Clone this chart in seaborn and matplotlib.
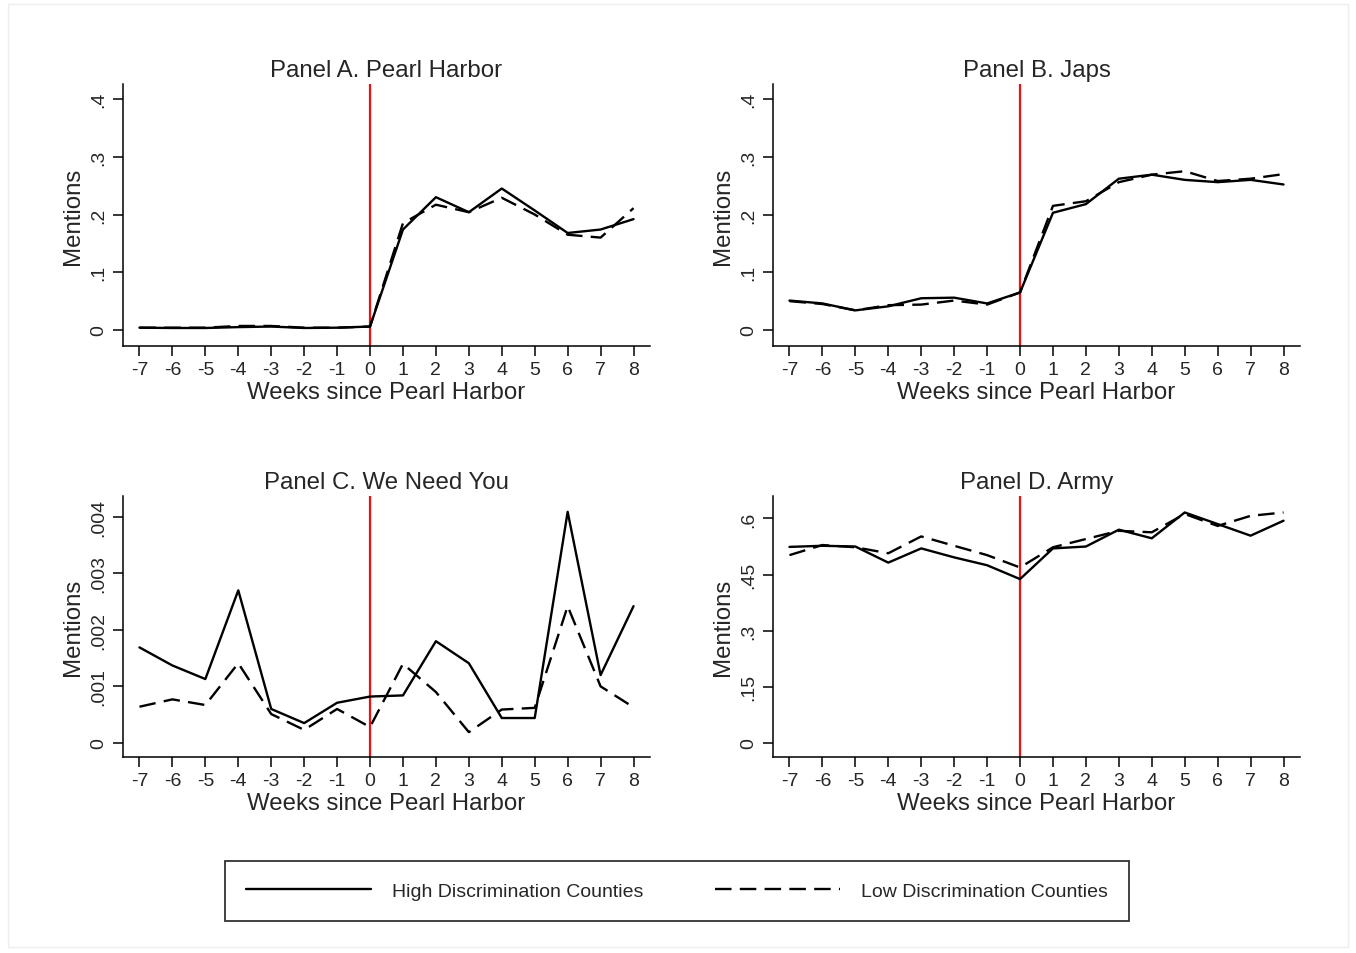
import matplotlib
matplotlib.use("Agg")
import matplotlib.pyplot as plt
import seaborn as sns
import pandas as pd
from matplotlib.lines import Line2D
from matplotlib.patches import Rectangle

weeks = list(range(-7, 9))

# Panel A. Pearl Harbor
a_high = [0.004, 0.0035, 0.0035, 0.005, 0.006, 0.0035, 0.004, 0.006,
          0.174, 0.230, 0.204, 0.245, 0.207, 0.168, 0.174, 0.192]
a_low = [0.004, 0.004, 0.004, 0.007, 0.007, 0.004, 0.004, 0.006,
         0.185, 0.217, 0.204, 0.229, 0.200, 0.165, 0.160, 0.211]
# Panel B. Japs
b_high = [0.051, 0.046, 0.034, 0.041, 0.055, 0.056, 0.046, 0.065,
          0.203, 0.218, 0.262, 0.269, 0.260, 0.256, 0.260, 0.252]
b_low = [0.050, 0.045, 0.034, 0.043, 0.044, 0.051, 0.044, 0.065,
         0.215, 0.223, 0.256, 0.269, 0.275, 0.258, 0.262, 0.270]
# Panel C. We Need You
c_high = [0.00169, 0.00137, 0.00113, 0.0027, 0.0006, 0.00035, 0.00071, 0.00082,
          0.00084, 0.0018, 0.00141, 0.00044, 0.00044, 0.00409, 0.0012, 0.00242]
c_low = [0.00064, 0.00077, 0.00067, 0.00141, 0.00051, 0.00023, 0.0006, 0.00028,
         0.0014, 0.0009, 0.00019, 0.00059, 0.00062, 0.00242, 0.001, 0.00063]
# Panel D. Army
d_high = [0.524, 0.527, 0.525, 0.482, 0.520, 0.496, 0.475, 0.438,
          0.520, 0.525, 0.570, 0.547, 0.616, 0.585, 0.554, 0.594]
d_low = [0.502, 0.529, 0.523, 0.507, 0.552, 0.527, 0.502, 0.469,
         0.523, 0.545, 0.567, 0.563, 0.612, 0.580, 0.607, 0.616]

titles = ["Panel A. Pearl Harbor", "Panel B. Japs", "Panel C. We Need You", "Panel D. Army"]
series = [(a_high, a_low), (b_high, b_low), (c_high, c_low), (d_high, d_low)]
yticks = [[0, 0.1, 0.2, 0.3, 0.4], [0, 0.1, 0.2, 0.3, 0.4],
          [0, 0.001, 0.002, 0.003, 0.004], [0, 0.15, 0.3, 0.45, 0.6]]
yticklabels = [["0", ".1", ".2", ".3", ".4"], ["0", ".1", ".2", ".3", ".4"],
               ["0", ".001", ".002", ".003", ".004"], ["0", ".15", ".3", ".45", ".6"]]
ylims = [(-0.0277, 0.426), (-0.0277, 0.426), (-0.00025, 0.00437), (-0.0374, 0.66)]

high_label = "High Discrimination Counties"
low_label = "Low Discrimination Counties"

sns.set_style("white")
plt.rcParams['font.family'] = ['Liberation Sans', 'DejaVu Sans']

W, H = 1356, 954
fig = plt.figure(figsize=(W / 100, H / 100), dpi=100)

# faint outer frame
fig.patches.append(Rectangle((8 / W, 1 - 948 / H), 1340 / W, 943 / H, transform=fig.transFigure,
                             fill=False, edgecolor="#eeeeee", lw=1))

lefts = [123, 773, 123, 773]
bottoms = [347, 347, 758, 758]
tops = [85, 85, 497, 497]
aw = 527

dash = (7, 3.5)
for i in range(4):
    l, b, t = lefts[i], bottoms[i], tops[i]
    ax = fig.add_axes([l / W, 1 - b / H, aw / W, (b - t) / H])
    hi, lo = series[i]
    df = pd.DataFrame({
        "week": weeks + weeks,
        "value": hi + lo,
        "group": [high_label] * len(weeks) + [low_label] * len(weeks),
    })
    sns.lineplot(data=df, x="week", y="value", style="group",
                 dashes={high_label: "", low_label: dash},
                 color="black", linewidth=1.7, ax=ax, legend=False)
    ax.axvline(0, color="#ee1111", lw=1.6, zorder=0)
    ax.set_xlim(-7.5, 8.5)
    ax.set_ylim(*ylims[i])
    ax.set_xticks(weeks)
    ax.set_xticklabels([str(w) for w in weeks])
    ax.set_yticks(yticks[i])
    ax.set_yticklabels(yticklabels[i])
    for lab in ax.get_yticklabels():
        lab.set_rotation(90)
        lab.set_va("center")
        lab.set_ha("right")
    ax.tick_params(axis="both", direction="out", length=7, width=1.1, color="black",
                   labelsize=14, pad=4, left=True, bottom=True)
    sns.despine(ax=ax)
    for s in ["left", "bottom"]:
        ax.spines[s].set_color("black")
        ax.spines[s].set_linewidth(1.1)
    ax.set_xlabel("Weeks since Pearl Harbor", fontsize=17.3, labelpad=2)
    ax.set_ylabel("Mentions", fontsize=17.3, labelpad=5)
    ax.set_title(titles[i], fontsize=17.3, pad=6)

handles = [Line2D([0], [0], color="black", lw=1.7),
           Line2D([0], [0], color="black", lw=1.7, linestyle=(0, dash))]
leg = fig.legend(handles, [high_label, low_label], ncol=2, loc="center",
                 bbox_to_anchor=(677 / W, 1 - 892 / H),
                 fontsize=14, handlelength=6.4, handletextpad=1.08, columnspacing=3.7,
                 frameon=True, fancybox=False, borderpad=1.1, borderaxespad=0)
leg.get_frame().set_edgecolor("black")
leg.get_frame().set_linewidth(1.3)

fig.savefig("out.png", dpi=100, facecolor="white")
